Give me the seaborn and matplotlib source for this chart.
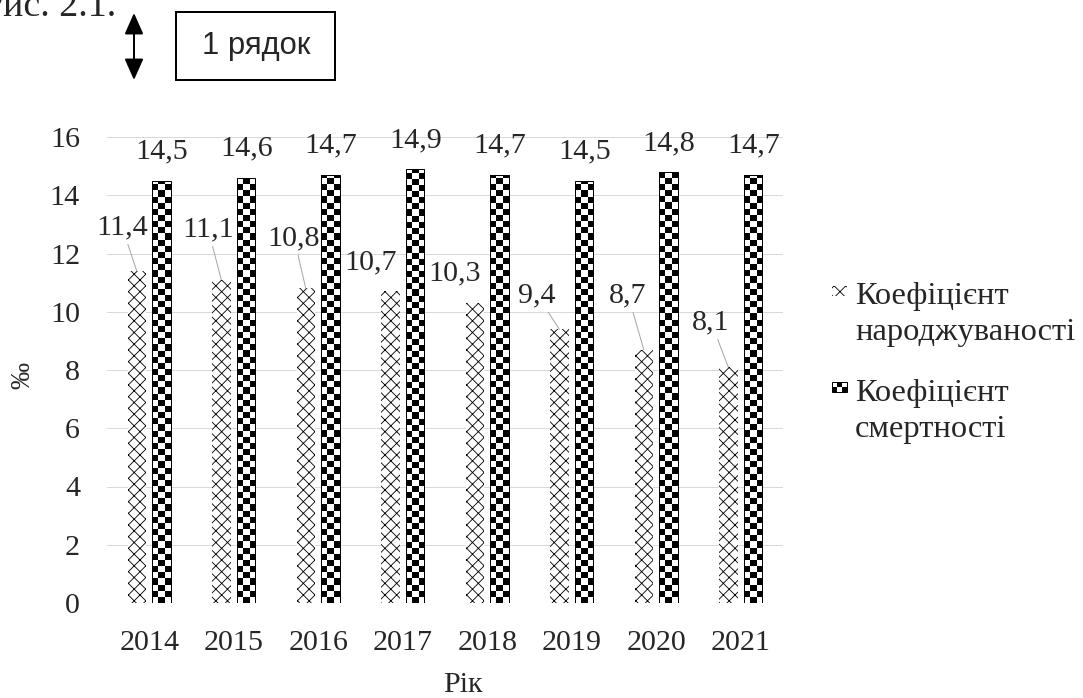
import numpy as np
import pandas as pd
import matplotlib
matplotlib.use("Agg")
import matplotlib.pyplot as plt
import seaborn as sns
from matplotlib.patches import Rectangle, FancyArrowPatch
from matplotlib.legend_handler import HandlerBase

# ---- data -------------------------------------------------------------
years = ["2014", "2015", "2016", "2017", "2018", "2019", "2020", "2021"]
birth_rate = [11.4, 11.1, 10.8, 10.7, 10.3, 9.4, 8.7, 8.1]
death_rate = [14.5, 14.6, 14.7, 14.9, 14.7, 14.5, 14.8, 14.7]
series_names = ["Коефіцієнт\nнароджуваності", "Коефіцієнт\nсмертності"]
y_ticks = [0, 2, 4, 6, 8, 10, 12, 14, 16]

# placement of the birth-rate value labels (pixels: shift right, rise above bar top)
birth_label_offsets = [(-14.75, 44), (-13.25, 50.7), (-11.75, 50.5), (-19.25, 29.4),
                       (-19.75, 30), (-22.25, 34.2), (-15.75, 54.6), (-17.25, 45)]
birth_label_leader = [True, True, True, False, False, True, True, True]

# ---- geometry helpers ------------------------------------------------------
DPI = 140
W, H = 1083, 698


def pt(px):
    return px * 72 / DPI


def fx(px):
    return px / W


def fy(py):
    return 1 - py / H


FS = pt(30)
LEG_FS = pt(32.5)

sns.set_style("white")
plt.rcParams["font.family"] = ["Liberation Serif", "DejaVu Serif"]
plt.rcParams["hatch.linewidth"] = pt(0.85)

fig = plt.figure(figsize=(W / DPI, H / DPI), dpi=DPI)
ax = fig.add_axes([fx(107), fy(603), fx(783) - fx(107), fy(137) - fy(603)])

df = pd.DataFrame({
    "Рік": years * 2,
    "value": birth_rate + death_rate,
    "series": [series_names[0]] * len(years) + [series_names[1]] * len(years),
})

sns.barplot(data=df, x="Рік", y="value", hue="series", hue_order=series_names,
            palette=["white", "white"], saturation=1, width=0.59, gap=0.26,
            edgecolor="black", linewidth=pt(1.0), errorbar=None, legend=False, ax=ax)

ax.set_xlim(-0.5, len(years) - 0.5)
ax.set_ylim(0, 16)
ax.set_yticks(y_ticks)
ax.yaxis.grid(True, color="#d9d9d9", lw=pt(1.0))
ax.xaxis.grid(False)
ax.set_axisbelow(True)
for s in ax.spines.values():
    s.set_visible(False)
ax.tick_params(length=0, labelsize=FS, pad=pt(27))

birth_bars = ax.containers[0]
death_bars = ax.containers[1]

# birth-rate bars: diagonal cross hatch, no outline
for p in birth_bars:
    p.set_hatch("xxxx")
    p.set_linewidth(0)

# death-rate bars: checkerboard fill clipped to each bar
for p in death_bars:
    x0, w, h = p.get_x(), p.get_width(), p.get_height()
    (ax0, ay0), (ax1, ay1) = ax.transData.transform([(x0, 0), (x0 + w, h)])
    sq_px = (ax1 - ax0) / 3
    sq_data = sq_px * h / (ay1 - ay0)
    nrows = int(np.ceil(h / sq_data))
    board = np.add.outer(np.arange(nrows), np.arange(3)) % 2
    im = ax.imshow(board, cmap="binary", vmin=0, vmax=1, origin="lower",
                   extent=(x0, x0 + w, 0, nrows * sq_data), aspect="auto",
                   interpolation="nearest", zorder=1.5)
    im.set_clip_path(p)
    p.set_facecolor("none")
    p.set_zorder(2)

ax.set_xlim(-0.5, len(years) - 0.5)
ax.set_ylim(0, 16)


def fmt(v):
    return f"{v:.1f}".replace(".", ",")


for p, v in zip(death_bars, death_rate):
    ax.annotate(fmt(v), xy=(p.get_x() + p.get_width() / 2, v),
                xytext=(0, pt(29)), textcoords="offset points",
                ha="center", va="center", fontsize=FS)

for p, v, (dx, dy), lead in zip(birth_bars, birth_rate, birth_label_offsets, birth_label_leader):
    arrow = dict(arrowstyle="-", color="#a6a6a6", lw=pt(1.0), shrinkA=0, shrinkB=0) if lead else None
    ax.annotate(fmt(v), xy=(p.get_x() + p.get_width() / 2, v),
                xytext=(pt(dx), pt(dy)), textcoords="offset points",
                ha="center", va="center", fontsize=FS, arrowprops=arrow)

ax.set_xlabel("Рік", fontsize=FS)
ax.xaxis.set_label_coords(0.527, -0.148)
ax.set_ylabel("‰", fontsize=pt(27), va="center")
ax.yaxis.set_label_coords(-0.125, 0.489)

# ---- legend ------------------------------------------------------------
MARK_RISE_PX = 30


class FirstLineHandler(HandlerBase):
    """Legend key drawn beside the first line of a two-line label."""

    def __init__(self, checker):
        super().__init__()
        self.checker = checker

    def create_artists(self, legend, orig_handle, xdescent, ydescent,
                       width, height, fontsize, trans):
        y0 = pt(MARK_RISE_PX)
        hh = pt(10)
        x0 = -xdescent
        if not self.checker:
            return [Rectangle((x0, y0), width, hh, facecolor="white", edgecolor="black",
                              hatch="xxxx", linewidth=0, transform=trans)]
        arts = []
        cw, ch = width / 3, hh / 2
        for i in range(2):
            for j in range(3):
                c = "black" if (i + j) % 2 == 0 else "white"
                arts.append(Rectangle((x0 + j * cw, y0 + i * ch), cw, ch, facecolor=c,
                                      linewidth=0, transform=trans))
        arts.append(Rectangle((x0, y0), width, hh, facecolor="none", edgecolor="black",
                              linewidth=pt(1.0), transform=trans))
        return arts


h_birth = Rectangle((0, 0), 1, 1)
h_death = Rectangle((0, 0), 1, 1)
leg = ax.legend([h_birth, h_death], series_names, loc="upper left",
                bbox_to_anchor=(fx(832), fy(282)), bbox_transform=fig.transFigure,
                frameon=False, fontsize=LEG_FS, borderpad=0, borderaxespad=0,
                handlelength=15 / 32.5, handleheight=10 / 32.5, handletextpad=8 / 32.5,
                labelspacing=0.98,
                handler_map={h_birth: FirstLineHandler(False), h_death: FirstLineHandler(True)})
for t in leg.get_texts():
    t.set_linespacing(1.32)

# ---- page annotations above the chart -------------------------------------
fig.text(fx(116), fy(16), "Рис. 2.1.", ha="right", va="baseline", fontsize=pt(38))
fig.add_artist(Rectangle((fx(176), fy(80)), fx(335) - fx(176), fy(12) - fy(80),
                         transform=fig.transFigure, fill=False, edgecolor="black", lw=pt(2)))
fig.text(fx(256), fy(46), "1 рядок", ha="center", va="center", fontsize=pt(31),
         family=["Liberation Sans", "DejaVu Sans"])
fig.add_artist(FancyArrowPatch((fx(134), fy(80)), (fx(134), fy(13)), transform=fig.transFigure,
                               arrowstyle=f"<|-|>,head_length={pt(18)},head_width={pt(8)}",
                               mutation_scale=1, lw=pt(2), color="black",
                               shrinkA=0, shrinkB=0))

fig.savefig("out.png", dpi=DPI)
